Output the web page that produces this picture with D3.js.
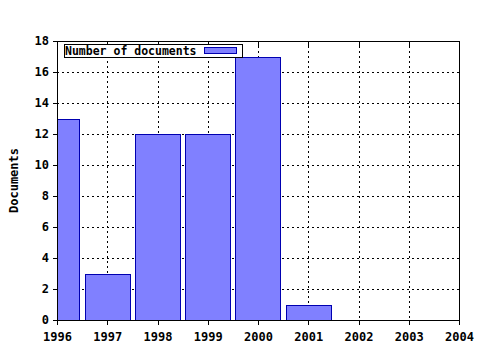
<!DOCTYPE html>
<html>
<head>
<meta charset="utf-8">
<script src="https://cdn.jsdelivr.net/npm/d3@7"></script>
<style>
  body { margin: 0; background: #fff; }
  text { font-family: "DejaVu Sans Mono", monospace; font-weight: bold; font-size: 11.5px; }
</style>
</head>
<body>
<div id="chart"></div>
<script>
// chart values
const years = [1996, 1997, 1998, 1999, 2000, 2001, 2002, 2003];
const documents = [13, 3, 12, 12, 17, 1, 0, 0];
const yTicks = [0, 2, 4, 6, 8, 10, 12, 14, 16, 18];
const xTicks = [1996, 1997, 1998, 1999, 2000, 2001, 2002, 2003, 2004];
const seriesName = "Number of documents";

const W = 480, H = 350;
const m = { left: 57, right: 21, top: 41, bottom: 30 };

const svg = d3.select("#chart")
  .append("svg")
    .attr("width", W)
    .attr("height", H);

const x = d3.scaleLinear().domain([1996, 2004]).range([m.left, W - m.right]);
const y = d3.scaleLinear().domain([0, 18]).range([H - m.bottom, m.top]);

svg.append("clipPath").attr("id", "plot")
  .append("rect")
    .attr("x", m.left).attr("y", m.top)
    .attr("width", W - m.left - m.right)
    .attr("height", H - m.top - m.bottom);

// grid lines
const grid = svg.append("g")
  .attr("stroke", "#000")
  .attr("stroke-dasharray", "2,3")
  .attr("shape-rendering", "crispEdges");
grid.selectAll("line.h")
  .data(yTicks.slice(1, -1))
  .join("line")
    .attr("x1", m.left).attr("x2", W - m.right)
    .attr("y1", d => Math.round(y(d)) + 0.5).attr("y2", d => Math.round(y(d)) + 0.5);
grid.selectAll("line.v")
  .data(xTicks.slice(1, -1))
  .join("line")
    .attr("y1", m.top).attr("y2", H - m.bottom)
    .attr("x1", d => Math.round(x(d)) + 0.5).attr("x2", d => Math.round(x(d)) + 0.5);

// bars, centred on the year, clipped at the frame
const barW = x(1996.9) - x(1996);
svg.append("g")
  .attr("clip-path", "url(#plot)")
  .selectAll("rect.bar")
  .data(years.map((yr, i) => ({ yr, v: documents[i] })).filter(d => d.v > 0))
  .join("rect")
    .attr("class", "bar")
    .attr("x", d => Math.round(x(d.yr) - barW / 2) + 0.5)
    .attr("y", d => Math.round(y(d.v)) + 0.5)
    .attr("width", Math.round(barW))
    .attr("height", d => Math.round(y(0)) - Math.round(y(d.v)))
    .attr("fill", "#8080ff")
    .attr("stroke", "#0000b0");

// axes
const xMinor = d3.range(1996, 2004.001, 0.2);
const bottomAxis = svg.append("g")
  .attr("transform", `translate(0,${H - m.bottom})`)
  .call(d3.axisBottom(x).tickValues(xMinor).tickSize(3).tickFormat(""));
bottomAxis.call(d3.axisBottom(x).tickValues(xTicks).tickSize(5).tickFormat(d3.format("d")));
bottomAxis.selectAll("text").attr("dy", "1.05em").style("font-size", "12px").attr("fill", "#000");

const topAxis = svg.append("g")
  .attr("transform", `translate(0,${m.top})`)
  .call(d3.axisBottom(x).tickValues(xMinor).tickSize(3).tickFormat(""));
topAxis.call(d3.axisBottom(x).tickValues(xTicks).tickSize(5).tickFormat(""));
topAxis.selectAll(".domain").remove();

const leftAxis = svg.append("g")
  .attr("transform", `translate(${m.left},0)`)
  .call(d3.axisLeft(y).tickValues(yTicks).tickSize(4).tickPadding(4));
leftAxis.selectAll("text").style("font-size", "12px").attr("fill", "#000");

svg.append("line")
  .attr("x1", W - m.right + 0.5).attr("x2", W - m.right + 0.5)
  .attr("y1", m.top).attr("y2", H - m.bottom)
  .attr("stroke", "#000");
svg.append("line")
  .attr("x1", m.left).attr("x2", W - m.right)
  .attr("y1", m.top + 0.5).attr("y2", m.top + 0.5)
  .attr("stroke", "#000");

svg.selectAll(".domain, .tick line").attr("stroke", "#000").attr("shape-rendering", "crispEdges");

// y label
svg.append("text")
  .attr("transform", `translate(18,${(m.top + H - m.bottom) / 2}) rotate(-90)`)
  .attr("text-anchor", "middle")
  .style("font-size", "12px")
  .text("Documents");

// legend
const lg = svg.append("g").attr("transform", "translate(64,44)");
lg.append("rect")
  .attr("x", 0.5).attr("y", 0.5).attr("width", 178).attr("height", 13)
  .attr("fill", "#fff").attr("stroke", "#000");
lg.append("text").attr("x", 1).attr("y", 10.5).text(seriesName);
lg.append("rect")
  .attr("x", 140.5).attr("y", 3.5).attr("width", 32).attr("height", 6)
  .attr("fill", "#8080ff").attr("stroke", "#0000b0");
</script>
</body>
</html>
